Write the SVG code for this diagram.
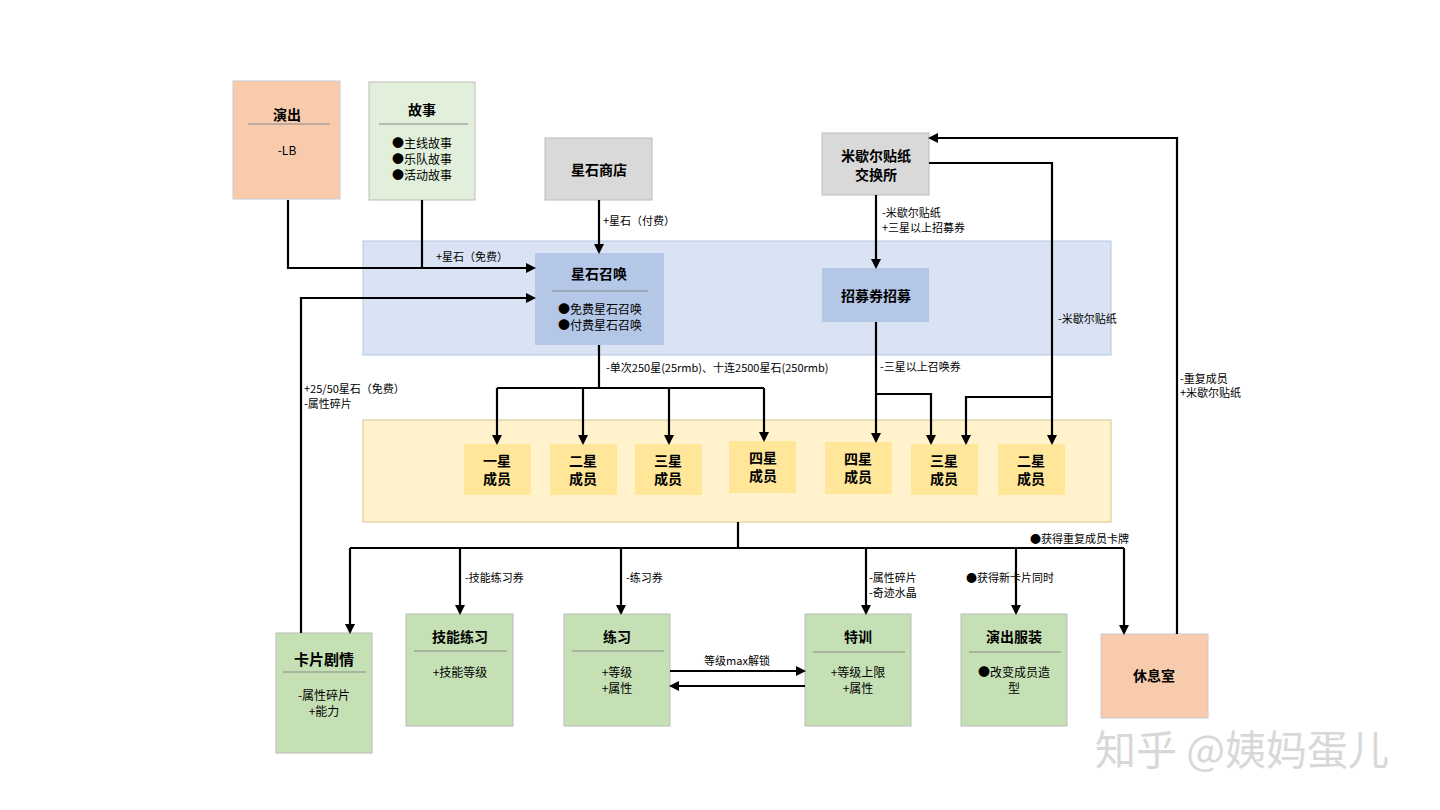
<svg xmlns="http://www.w3.org/2000/svg" width="1440" height="810" viewBox="0 0 1440 810">
<defs>
<marker id="a" markerWidth="10" markerHeight="10" refX="8" refY="5" orient="auto" markerUnits="userSpaceOnUse"><path d="M0,0 L10,5 L0,10 z" fill="#000"/></marker>
<style>
text{font-family:"Noto Sans CJK SC","Liberation Sans",sans-serif;fill:#000}
.t{font-size:14px;font-weight:bold;text-anchor:middle}
.b{font-size:12px;text-anchor:middle}
.l{font-size:11px}
.c{fill:none;stroke:#000;stroke-width:2.2}
.ar{marker-end:url(#a)}
.sep{stroke:#888;stroke-width:1}
.o{fill:#f8cbad;stroke:#ccc}
.g{fill:#c5e0b4;stroke:#bbb}
.lg{fill:#e2efda;stroke:#bbb}
.gr{fill:#d9d9d9;stroke:#bbb}
.bl{fill:#b4c7e7}
.y{fill:#ffe699}
</style>
</defs>
<rect width="1440" height="810" fill="#fff"/>
<rect x="363" y="241" width="748" height="114" fill="#dae3f3" stroke="#b4c7e7"/>
<rect x="363" y="420" width="748" height="102" fill="#fff2cc" stroke="#d6c58f"/>
<g id="yanchu"><rect class="o" x="233" y="81" width="107" height="118"/><text class="t" x="287" y="120">演出</text><line class="sep" x1="248" y1="124" x2="330" y2="124"/><text class="b" x="287" y="155">-LB</text></g>
<g id="gushi"><rect class="lg" x="369" y="82" width="106" height="118"/><text class="t" x="422" y="115">故事</text><line class="sep" x1="379" y1="124" x2="468" y2="124"/><text class="b" x="422" y="148">●主线故事</text><text class="b" x="422" y="164">●乐队故事</text><text class="b" x="422" y="180">●活动故事</text></g>
<g id="shop"><rect class="gr" x="545" y="138" width="107" height="62"/><text class="t" x="599" y="175">星石商店</text></g>
<g id="exchange"><rect class="gr" x="822" y="133" width="107" height="62"/><text class="t" x="876" y="161">米歇尔贴纸</text><text class="t" x="876" y="180">交换所</text></g>
<g id="summon"><rect class="bl" x="535" y="253" width="129" height="92"/><text class="t" x="599" y="279">星石召唤</text><line class="sep" x1="552" y1="291" x2="648" y2="291"/><text class="b" x="600" y="314">●免费星石召唤</text><text class="b" x="600" y="330">●付费星石召唤</text></g>
<g id="ticket"><rect class="bl" x="822" y="268" width="107" height="54"/><text class="t" x="876" y="301">招募券招募</text></g>
<g id="m1"><rect class="y" x="464" y="444" width="67" height="51"/><text class="t" x="497" y="466">一星</text><text class="t" x="497" y="484">成员</text></g>
<g id="m2"><rect class="y" x="550" y="444" width="67" height="51"/><text class="t" x="583" y="466">二星</text><text class="t" x="583" y="484">成员</text></g>
<g id="m3"><rect class="y" x="635" y="444" width="67" height="51"/><text class="t" x="668" y="466">三星</text><text class="t" x="668" y="484">成员</text></g>
<g id="m4"><rect class="y" x="729" y="441" width="67" height="52"/><text class="t" x="763" y="463">四星</text><text class="t" x="763" y="481">成员</text></g>
<g id="m5"><rect class="y" x="825" y="442" width="67" height="52"/><text class="t" x="858" y="464">四星</text><text class="t" x="858" y="482">成员</text></g>
<g id="m6"><rect class="y" x="911" y="444" width="67" height="51"/><text class="t" x="944" y="466">三星</text><text class="t" x="944" y="484">成员</text></g>
<g id="m7"><rect class="y" x="998" y="444" width="67" height="51"/><text class="t" x="1031" y="466">二星</text><text class="t" x="1031" y="484">成员</text></g>
<g id="card"><rect class="g" x="276" y="633" width="96" height="120"/><text class="t" x="324" y="665" style="font-size:15px">卡片剧情</text><line class="sep" x1="283" y1="672" x2="366" y2="672"/><text class="b" x="324" y="700">-属性碎片</text><text class="b" x="324" y="716">+能力</text></g>
<g id="skill"><rect class="g" x="406" y="614" width="107" height="112"/><text class="t" x="460" y="642">技能练习</text><line class="sep" x1="414" y1="651" x2="507" y2="651"/><text class="b" x="460" y="677">+技能等级</text></g>
<g id="lesson"><rect class="g" x="564" y="614" width="106" height="112"/><text class="t" x="617" y="642">练习</text><line class="sep" x1="572" y1="651" x2="664" y2="651"/><text class="b" x="617" y="677">+等级</text><text class="b" x="617" y="693">+属性</text></g>
<g id="train"><rect class="g" x="805" y="614" width="106" height="112"/><text class="t" x="858" y="642">特训</text><line class="sep" x1="813" y1="652" x2="905" y2="652"/><text class="b" x="858" y="677">+等级上限</text><text class="b" x="858" y="693">+属性</text></g>
<g id="costume"><rect class="g" x="961" y="614" width="106" height="112"/><text class="t" x="1014" y="642">演出服装</text><line class="sep" x1="969" y1="652" x2="1061" y2="652"/><text class="b" x="1014" y="677">●改变成员造</text><text class="b" x="1014" y="693">型</text></g>
<g id="rest"><rect class="o" x="1101" y="634" width="107" height="84"/><text class="t" x="1154" y="681">休息室</text></g>
<g id="connectors">
<path class="c ar" d="M288,200 V268 H534"/>
<path class="c" d="M422,200 V268"/>
<path class="c ar" d="M599,200 V252"/>
<path class="c ar" d="M301,633 V298 H534"/>
<path class="c" d="M599,345 V388 M497,388 H764"/>
<path class="c ar" d="M497,388 V443"/><path class="c ar" d="M583,388 V443"/><path class="c ar" d="M669,388 V443"/><path class="c ar" d="M764,388 V440"/>
<path class="c ar" d="M876,195 V267"/>
<path class="c ar" d="M876,322 V441"/>
<path class="c ar" d="M876,394 H931 V443"/>
<path class="c ar" d="M929,163 H1052 V443"/>
<path class="c ar" d="M1052,397 H966 V443"/>
<path class="c ar" d="M1177,634 V138 H930"/>
<path class="c" d="M738,522 V548 M350,548 H1124"/>
<path class="c ar" d="M350,548 V632"/><path class="c ar" d="M460,548 V613"/><path class="c ar" d="M621,548 V613"/><path class="c ar" d="M866,548 V613"/><path class="c ar" d="M1016,548 V613"/><path class="c ar" d="M1124,548 V633"/>
<path class="c ar" d="M670,671 H804"/>
<path class="c ar" d="M805,686 H671"/>
</g>
<g id="labels">
<text class="l" x="436" y="261">+星石（免费）</text>
<text class="l" x="603" y="225">+星石（付费）</text>
<text class="l" x="304" y="393">+25/50星石（免费）</text><text class="l" x="304" y="408">-属性碎片</text>
<text class="l" x="606" y="372">-单次250星(25rmb)、十连2500星石(250rmb)</text>
<text class="l" x="882" y="217">-米歇尔贴纸</text><text class="l" x="882" y="232">+三星以上招募券</text>
<text class="l" x="880" y="371">-三星以上召唤券</text>
<text class="l" x="1058" y="323">-米歇尔贴纸</text>
<text class="l" x="1180" y="383">-重复成员</text><text class="l" x="1180" y="397">+米歇尔贴纸</text>
<text class="l" x="1030" y="543">●获得重复成员卡牌</text>
<text class="l" x="966" y="582">●获得新卡片同时</text>
<text class="l" x="465" y="582">-技能练习券</text>
<text class="l" x="626" y="582">-练习券</text>
<text class="l" x="869" y="582">-属性碎片</text><text class="l" x="869" y="597">-奇迹水晶</text>
<text class="l" x="737" y="665" text-anchor="middle">等级max解锁</text>
</g>
<text x="1095" y="765" style="font-size:41px;fill:#d8d8d8">知乎 @姨妈蛋儿</text>
</svg>
